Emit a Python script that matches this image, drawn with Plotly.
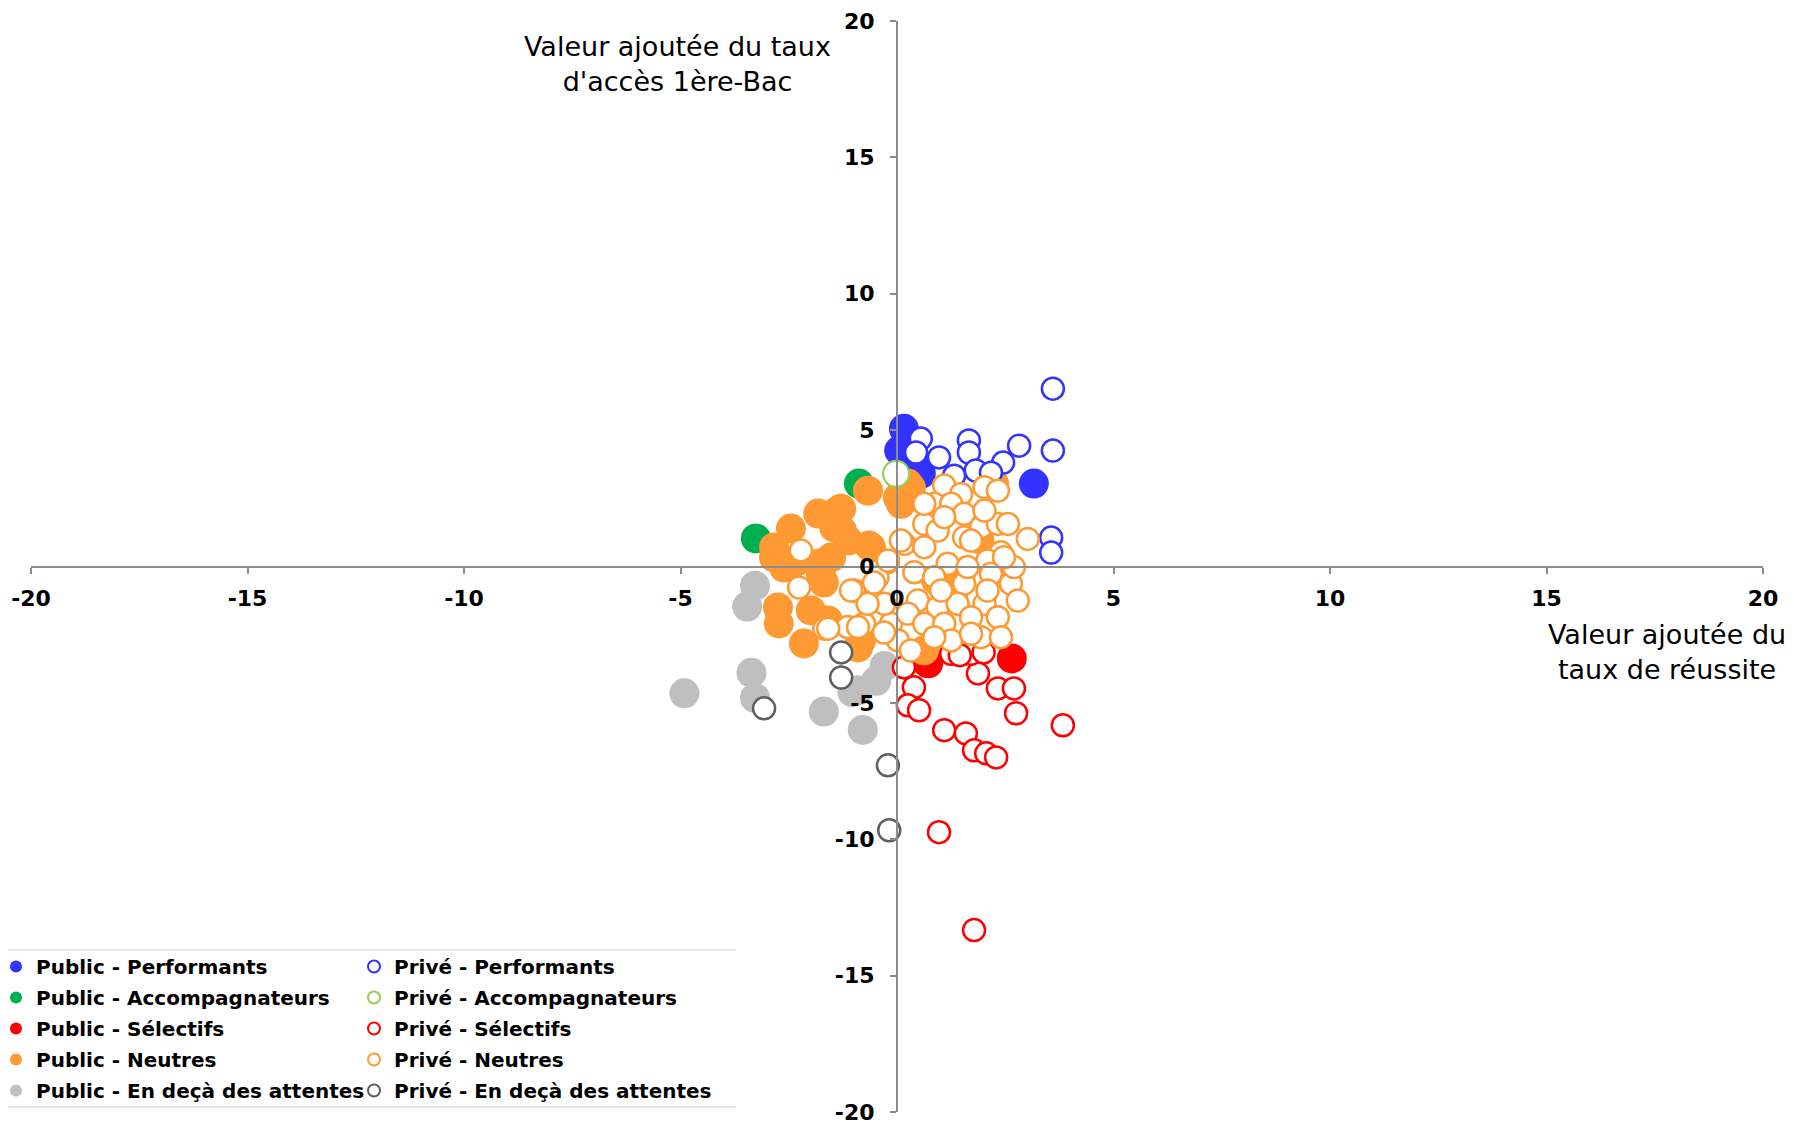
import plotly.graph_objects as go

FONT = "DejaVu Sans"

# ---------------- data ----------------
pub_perf_x = [0.16, 0.05, 0.02, 0.55, 3.16, 0.32, 0.40]
pub_perf_y = [5.05, 4.25, 3.40, 3.40, 3.04, 3.88, 3.70]

pub_acc_x = [-0.88, -3.26]
pub_acc_y = [3.04, 1.03]

pub_sel_x = [2.65, 0.58, 0.72]
pub_sel_y = [-3.37, -3.40, -3.55]

pub_neu_x = [-0.67, -1.29, -1.82, -2.45, -2.84, -1.45, -1.13, -0.65, -1.80, -2.61,
             -1.69, -2.75, -1.99, -2.73, -1.59, -2.15, -0.83, 0.02, 0.25, -0.90,
             0.62, 0.32, 2.24, 1.48, -2.33, -1.27, -1.52, -2.84, -1.76, 0.09,
             -0.60, -1.36, 0.90, 1.30, 1.90]
pub_neu_y = [2.78, 2.12, 1.94, 1.39, 0.70, 1.43, 0.95, 0.77, 0.11, -0.04,
             -0.59, -1.50, -1.61, -2.09, -1.98, -2.82, -2.71, 2.53, 3.04, -2.97,
             -3.08, 2.89, 3.04, -0.26, 0.18, 1.32, 0.33, 0.33, -0.26, 2.30,
             0.70, 2.05, -0.50, -1.00, 1.00]

pub_dec_x = [-3.28, -3.46, -3.36, -4.91, -3.28, -1.69, -0.79, -1.03, -0.29, -0.48, -0.90]
pub_dec_y = [-0.71, -1.47, -3.90, -4.65, -4.82, -5.32, -5.99, -4.61, -3.65, -4.19, -4.54]

priv_perf_x = [3.60, 0.55, 0.44, 0.97, 1.66, 1.66, 2.82, 3.60, 2.45, 1.32, 1.82, 2.17, 3.56, 3.56]
priv_perf_y = [6.52, 4.69, 4.18, 4.00, 4.62, 4.18, 4.43, 4.25, 3.81, 3.33, 3.52, 3.44, 1.06, 0.51]

priv_acc_x = [-0.02]
priv_acc_y = [3.40]

priv_sel_x = [0.39, 0.25, 0.51, 1.09, 1.59, 1.78, 2.06, 2.29, 1.87, 2.33,
              2.70, 2.75, 3.83, 0.97, 1.78, 1.25, 1.70, 0.16, 1.45, 2.00]
priv_sel_y = [-4.43, -5.09, -5.27, -6.00, -6.12, -6.74, -6.85, -7.00, -3.92, -4.47,
              -4.47, -5.38, -5.82, -9.74, -13.33, -3.20, -3.20, -3.70, -3.25, -3.15]

priv_neu_x = [1.09, 2.02, 1.48, 0.86, 1.25, 1.55, 0.63, 0.94, 1.94, 1.55,
              2.33, 0.17, 0.63, 1.71, 2.40, 3.02, 1.17, 2.09, -0.21, 0.40,
              2.17, 2.63, 1.55, -0.99, -0.45, 0.48, 0.94, 1.40, 2.02, 2.79,
              -1.68, -1.14, -0.76, -0.14, 0.25, 0.63, 1.09, 1.71, 2.33, 0.02,
              1.25, 1.94, 0.32, 2.56, 2.02, 1.09, 2.33, 0.63, 2.70, 2.47,
              1.63, 0.86, 2.09, 1.02, -0.29, -0.68, 2.40, 0.86, 1.71, -2.22,
              -2.26, -1.06, -1.59, -0.90, -0.30, -0.53, -0.21, 0.09]
priv_neu_y = [2.97, 2.91, 2.66, 2.30, 2.30, 1.93, 1.56, 1.32, 1.44, 1.07,
              1.56, 0.83, 0.71, 0.95, 0.52, 1.01, 0.10, 0.22, 0.16, -0.21,
              -0.27, -0.63, -0.63, -0.88, -0.39, -1.25, -1.49, -1.37, -1.37, -1.25,
              -2.28, -2.22, -2.10, -2.10, -1.73, -2.10, -2.10, -1.86, -1.86, -2.71,
              -2.71, -2.59, -3.08, 1.56, 2.05, 1.81, 2.78, 2.30, -0.02, 0.34,
              -0.02, -0.39, -0.88, -0.88, -1.37, -1.37, -2.59, -2.59, -2.47, 0.59,
              -0.77, -0.88, -2.28, -2.22, -2.42, -0.59, 0.22, 0.95]

priv_dec_x = [-1.29, -1.29, -3.07, -0.21, -0.18]
priv_dec_y = [-3.15, -4.07, -5.20, -7.29, -9.67]

axis_ticks = [-20, -15, -10, -5, 0, 5, 10, 15, 20]

# ---------------- figure ----------------
public = [
    ("Public - Performants", pub_perf_x, pub_perf_y, "#3333FF"),
    ("Public - Accompagnateurs", pub_acc_x, pub_acc_y, "#00B050"),
    ("Public - Sélectifs", pub_sel_x, pub_sel_y, "#FF0000"),
    ("Public - Neutres", pub_neu_x, pub_neu_y, "#FF9933"),
    ("Public - En deçà des attentes", pub_dec_x, pub_dec_y, "#BFBFBF"),
]
prive = [
    ("Privé - Performants", priv_perf_x, priv_perf_y, "#3333FF", 22, 2.5),
    ("Privé - Accompagnateurs", priv_acc_x, priv_acc_y, "#92D050", 26, 2.0),
    ("Privé - Sélectifs", priv_sel_x, priv_sel_y, "#FF0000", 22, 2.5),
    ("Privé - Neutres", priv_neu_x, priv_neu_y, "#FF9933", 22, 2.5),
    ("Privé - En deçà des attentes", priv_dec_x, priv_dec_y, "#5F5F5F", 22, 2.5),
]

fig = go.Figure()
for i, (name, xs, ys, col) in enumerate(public):
    fig.add_trace(go.Scatter(
        x=xs, y=ys, mode="markers", name=name, legend="legend",
        legendgroup="pub%d" % i,
        marker=dict(size=30, color=col, line=dict(width=0)),
    ))
for i, (name, xs, ys, col, sz, lw) in enumerate(prive):
    fig.add_trace(go.Scatter(
        x=xs, y=ys, mode="markers", name=name, legend="legend2",
        legendgroup="priv%d" % i,
        marker=dict(size=sz, color="white", line=dict(width=lw, color=col)),
    ))

# page has an 8px body margin: figure is offset by (8, 8)
OFF = 8
W, H = 1794 - OFF, 1125 - OFF
PL, PR, PT, PB = 31, 1763, 20.6, 1112   # plot area in page pixels
ML, MT = PL - OFF, PT - OFF
pw, ph = PR - PL, PB - PT
MR, MB = W - ML - pw, H - MT - ph


def px2x(p):
    return (p - PL) / pw


def px2y(p):
    return 1 - (p - PT) / ph


axis_common = dict(
    range=[-20, 20], tickvals=axis_ticks, ticktext=[str(v) for v in axis_ticks],
    showline=True, linecolor="#8C8C8C", linewidth=2,
    ticks="outside", ticklen=6, tickwidth=2, tickcolor="#8C8C8C",
    tickfont=dict(family=FONT, size=22, color="black", weight="bold"),
    showgrid=False, zeroline=False, anchor="free", position=0.5,
    domain=[0, 1], fixedrange=True,
)

legend_common = dict(
    orientation="v", bgcolor="rgba(0,0,0,0)", borderwidth=0,
    font=dict(family=FONT, size=20, color="black", weight="bold"),
    itemsizing="constant", traceorder="grouped", tracegroupgap=2,
    xanchor="left", yanchor="top",
)

fig.update_layout(
    width=W, height=H,
    margin=dict(l=ML, r=MR, t=MT, b=MB, autoexpand=False),
    paper_bgcolor="white", plot_bgcolor="white",
    showlegend=True,
    xaxis=dict(**axis_common, ticklabelstandoff=6),
    yaxis=dict(**axis_common, ticklabelstandoff=11),
    legend=dict(**legend_common, x=px2x(-4), y=px2y(947)),
    legend2=dict(**legend_common, x=px2x(354), y=px2y(947)),
    annotations=[
        dict(text="Valeur ajoutée du taux<br>d'accès 1ère-Bac", xref="paper", yref="paper",
             x=px2x(677), y=px2y(64), xanchor="center", yanchor="middle", showarrow=False,
             font=dict(family=FONT, size=27, color="black")),
        dict(text="Valeur ajoutée du<br>taux de réussite", xref="paper", yref="paper",
             x=px2x(1667), y=px2y(652), xanchor="center", yanchor="middle", showarrow=False,
             font=dict(family=FONT, size=27, color="black")),
    ],
    shapes=[
        dict(type="line", xref="paper", yref="paper", x0=px2x(0), x1=px2x(736),
             y0=px2y(950), y1=px2y(950), line=dict(color="#E6E6E6", width=2), layer="below"),
        dict(type="line", xref="paper", yref="paper", x0=px2x(0), x1=px2x(736),
             y0=px2y(1107), y1=px2y(1107), line=dict(color="#E6E6E6", width=2), layer="below"),
    ],
)

fig.write_html("out.html")
